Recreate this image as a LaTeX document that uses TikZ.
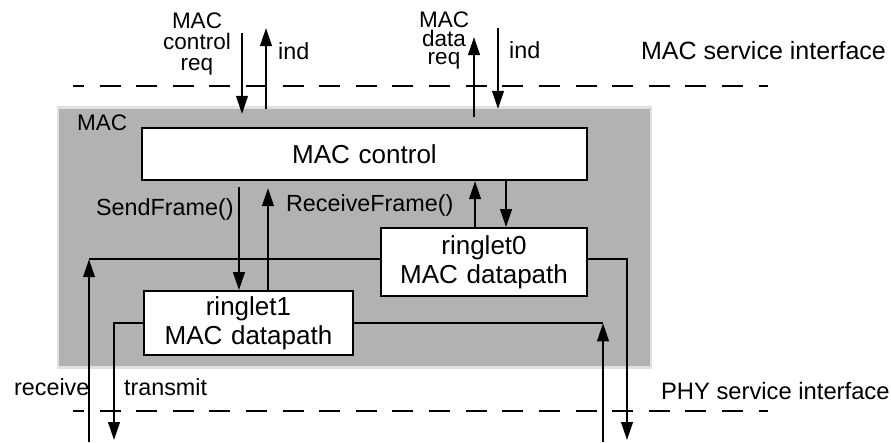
\documentclass[tikz,border=0pt]{standalone}
\usepackage{fontspec}
\setmainfont{Liberation Sans}
\usetikzlibrary{positioning, arrows.meta, calc}
\newcommand\tightfont{\fontsize{16}{13}\selectfont\lineskiplimit=-20pt\relax}

\begin{document}
\begin{tikzpicture}[x=0.025cm, y=-0.025cm, line width=0.055cm,
    font=\fontsize{16.6}{20}\selectfont,
    box/.style = {draw, fill=white, align=center, inner sep=0pt, text width=4.8cm,
                  font=\fontsize{18.5}{20.6}\selectfont},
    sig/.style = {-{Triangle[length=0.45cm, width=0.29cm]}},
    iface/.style = {dash pattern=on 0.525cm off 0.39cm, dash phase=0.25cm},
    lbl/.style = {inner sep=0pt}]
    \useasboundingbox (0,0) rectangle (891,442);
    \node[draw=black!12, fill=black!30, line width=0.06cm, inner sep=0pt,
          minimum width=14.825cm, minimum height=6.5cm] (mac) at (354.5,237.5) {};
    \node[lbl, anchor=base west, font=\fontsize{16}{19}\selectfont] (maclbl) at (76,130) {MAC};
    \node[box, text width=10cm, minimum width=11.125cm, minimum height=1.3cm] (ctrl) at (364.5,154) {MAC control};
    \node[box, minimum width=5.15cm, minimum height=1.7cm] (r0) [below left=1.15cm and 0cm of ctrl.south east] {ringlet0\\MAC datapath};
    \node[box, minimum width=5.225cm, minimum height=1.6cm] (r1) [below right=2.725cm and 0.05cm of ctrl.south west] {ringlet1\\MAC datapath};

    \coordinate (macsapL) at (73,86);
    \coordinate (macsapR) at (768,86);
    \coordinate (physapL) at (73,411);
    \coordinate (physapR) at (768,411);
    \draw[iface] (macsapL) -- (macsapR);
    \draw[iface] (physapL) -- (physapR);

    \coordinate (creq) at (242,33);
    \coordinate (cind) at (266,28);
    \coordinate (dreq) at (474,37);
    \coordinate (dind) at (498,28);
    \draw[sig, shorten >=0.325cm] (creq) -- (creq |- ctrl.north);
    \draw[sig, shorten <=0.45cm] (cind |- ctrl.north) -- (cind);
    \draw[sig, shorten <=0.25cm] (dreq |- ctrl.north) -- (dreq);
    \draw[sig, shorten >=0.45cm] (dind) -- (dind |- ctrl.north);

    \coordinate (send) at ([xshift=-0.2375cm]r1.north);
    \coordinate (recv) at ([xshift=0.4875cm]r1.north);
    \coordinate (up0) at ([xshift=-0.225cm]r0.north);
    \coordinate (dn0) at ([xshift=0.55cm]r0.north);
    \draw[sig, shorten <=0.15cm] (send |- ctrl.south) -- (send);
    \draw[sig, shorten >=0.175cm] (recv) -- (recv |- ctrl.south);
    \draw[sig] (up0) -- (up0 |- ctrl.south);
    \draw[sig] (dn0 |- ctrl.south) -- (dn0);

    \coordinate (rx0) at (89,442);
    \coordinate (tx1) at (114,440);
    \coordinate (rx1) at (603,442);
    \coordinate (tx0) at (627,440);
    \coordinate (r0w) at ([yshift=0.075cm]r0.west);
    \coordinate (r0e) at ([yshift=0.075cm]r0.east);
    \draw[sig] (rx0) -- (rx0 |- r0w);
    \draw (rx0 |- r0w) -- (r0w);
    \draw[sig] (r1.west) -- (tx1 |- r1.west) -- (tx1);
    \draw[sig] (rx1) -- (rx1 |- r1.east);
    \draw (rx1 |- r1.east) -- (r1.east);
    \draw[sig] (r0e) -- (tx0 |- r0e) -- (tx0);

    \node[lbl, anchor=north, align=center, text width=2.5cm, font=\fontsize{16}{14.9}\selectfont] (creqlbl) at (197,12) {MAC\\control\\req};
    \node[lbl, anchor=base west] (cindlbl) at (277,59) {ind};
    \node[lbl, anchor=north, align=center, text width=2cm, font=\tightfont] (dreqlbl) at (444,11) {MAC\\data\\req};
    \node[lbl, anchor=base west] (dindlbl) at (508,58) {ind};
    \node[lbl, anchor=base west, font=\fontsize{17.8}{20}\selectfont] (macsap) at (640,59) {MAC service interface};
    \node[lbl, anchor=base west, font=\fontsize{16.9}{20}\selectfont] (physap) at (660,399) {PHY service interface};
    \node[lbl, anchor=base west] (rxlbl) at (13,395) {receive};
    \node[lbl, anchor=base west] (txlbl) at (123,395) {transmit};
    \node[lbl, anchor=base west] (sendlbl) at (95,215) {SendFrame()};
    \node[lbl, anchor=base west] (recvlbl) at (285,211) {ReceiveFrame()};
\end{tikzpicture}
\end{document}
